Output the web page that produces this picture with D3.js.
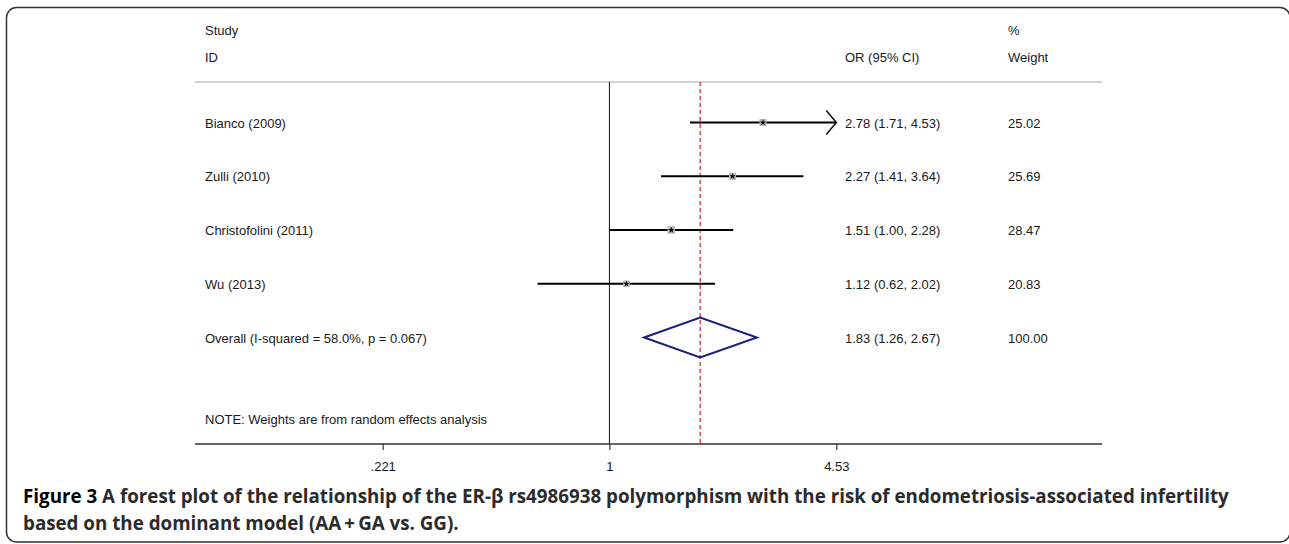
<!DOCTYPE html>
<html>
<head>
<meta charset="utf-8">
<script src="https://cdn.jsdelivr.net/npm/d3@7"></script>
<style>
  body { margin: 0; background: #fff; }
  .lbl { font-family: "Liberation Sans", Arial, sans-serif; font-size: 13px; fill: #1a1a1a; }
  .cap { font-family: "Open Sans", "Noto Sans", sans-serif; font-weight: 700; }
</style>
</head>
<body>
<div id="chart"></div>
<script>
// forest plot - ER-beta rs4986938, dominant model
var studies = ["Bianco  (2009)", "Zulli (2010)", "Christofolini  (2011)", "Wu (2013)"];
var orValues = [2.78, 2.27, 1.51, 1.12];
var ciLower = [1.71, 1.41, 1.00, 0.62];
var ciUpper = [4.53, 3.64, 2.28, 2.02];
var weights = [25.02, 25.69, 28.47, 20.83];
var orText = ["2.78 (1.71, 4.53)", "2.27 (1.41, 3.64)", "1.51 (1.00, 2.28)", "1.12 (0.62, 2.02)"];
var weightText = ["25.02", "25.69", "28.47", "20.83"];

var overallLabel = "Overall  (I-squared = 58.0%, p = 0.067)";
var overallOR = 1.83, overallLower = 1.26, overallUpper = 2.67;
var overallText = "1.83 (1.26, 2.67)", overallWeight = "100.00";

var tickValues = [0.221, 1, 4.53];
var tickLabels = [".221", "1", "4.53"];

var svgWidth = 1289, svgHeight = 544;

var svg = d3.select("#chart").append("svg")
  .attr("width", svgWidth)
  .attr("height", svgHeight);

// rounded frame (right side sits on the image edge)
svg.append("rect")
  .attr("x", 6.5).attr("y", 7.5)
  .attr("width", 1283.5).attr("height", 534.5)
  .attr("rx", 10)
  .attr("fill", "none")
  .attr("stroke", "#333")
  .attr("stroke-width", 1.5);

var plotLeft = 195, plotRight = 1102;
var headerY = 82, axisY = 444;
var labelX = 205, orX = 845, weightX = 1008;

var x = d3.scaleLog()
  .domain([tickValues[0], tickValues[2]])
  .range([382.7, 836.3]);

var y = d3.scaleLinear()
  .domain([0, 4])
  .range([122.5, 337.5]);

// headers
svg.append("text").attr("class", "lbl").attr("x", labelX).attr("y", 35).text("Study");
svg.append("text").attr("class", "lbl").attr("x", labelX).attr("y", 62).text("ID");
svg.append("text").attr("class", "lbl").attr("x", orX).attr("y", 62).text("OR (95% CI)");
svg.append("text").attr("class", "lbl").attr("x", weightX).attr("y", 35).text("%");
svg.append("text").attr("class", "lbl").attr("x", weightX).attr("y", 62).text("Weight");

svg.append("line")
  .attr("x1", plotLeft).attr("x2", plotRight)
  .attr("y1", headerY).attr("y2", headerY)
  .attr("stroke", "#c4c4c4").attr("stroke-width", 1.5);

// null line and overall line
svg.append("line")
  .attr("x1", x(1)).attr("x2", x(1))
  .attr("y1", headerY).attr("y2", axisY)
  .attr("stroke", "#111").attr("stroke-width", 1);

svg.append("line")
  .attr("x1", x(overallOR)).attr("x2", x(overallOR))
  .attr("y1", headerY).attr("y2", axisY)
  .attr("stroke", "#c0282d").attr("stroke-width", 1.2)
  .attr("stroke-dasharray", "4,3");

// axis
svg.append("line")
  .attr("x1", plotLeft).attr("x2", plotRight)
  .attr("y1", axisY).attr("y2", axisY)
  .attr("stroke", "#333").attr("stroke-width", 1.6);

var xAxis = d3.axisBottom(x)
  .tickValues(tickValues)
  .tickSize(6)
  .tickSizeOuter(0)
  .tickFormat(function(d, i) { return tickLabels[i]; });

var axisG = svg.append("g")
  .attr("transform", "translate(0," + axisY + ")")
  .call(xAxis);
axisG.select(".domain").remove();
axisG.selectAll("line").attr("stroke", "#333").attr("stroke-width", 1.2);
axisG.selectAll("text")
  .attr("class", "lbl")
  .attr("y", 23)
  .attr("dy", "0.32em");

// study rows
var rows = studies.map(function(s, i) {
  return { name: s, or: orValues[i], lo: ciLower[i], hi: ciUpper[i], w: weights[i], txt: orText[i], wt: weightText[i], i: i };
});

var maxTick = d3.max(tickValues);

var rowG = svg.selectAll(".row").data(rows).enter().append("g").attr("class", "row");

rowG.append("text").attr("class", "lbl")
  .attr("x", labelX).attr("y", function(d) { return y(d.i) + 5; })
  .text(function(d) { return d.name; });

rowG.append("text").attr("class", "lbl")
  .attr("x", orX).attr("y", function(d) { return y(d.i) + 5; })
  .text(function(d) { return d.txt; });

rowG.append("text").attr("class", "lbl")
  .attr("x", weightX).attr("y", function(d) { return y(d.i) + 5; })
  .text(function(d) { return d.wt; });

rowG.append("line")
  .attr("x1", function(d) { return x(d.lo); })
  .attr("x2", function(d) { return x(Math.min(d.hi, maxTick)); })
  .attr("y1", function(d) { return y(d.i); })
  .attr("y2", function(d) { return y(d.i); })
  .attr("stroke", "#000").attr("stroke-width", 2);

// arrow where CI reaches the axis limit
rowG.filter(function(d) { return d.hi >= maxTick; })
  .append("path")
  .attr("d", function(d) {
    var tx = x(maxTick), ty = y(d.i);
    return "M" + (tx - 10) + "," + (ty - 12) + "L" + tx + "," + ty + "L" + (tx - 10) + "," + (ty + 12);
  })
  .attr("fill", "none").attr("stroke", "#000").attr("stroke-width", 1.4);

// weight boxes
rowG.append("rect")
  .attr("x", function(d) { return x(d.or) - 3.5 * Math.sqrt(d.w / 25); })
  .attr("y", function(d) { return y(d.i) - 3.5 * Math.sqrt(d.w / 25); })
  .attr("width", function(d) { return 7 * Math.sqrt(d.w / 25); })
  .attr("height", function(d) { return 7 * Math.sqrt(d.w / 25); })
  .attr("fill", "#b4b4b4");

rowG.append("path")
  .attr("transform", function(d) { return "translate(" + x(d.or) + "," + y(d.i) + ")"; })
  .attr("d", d3.symbol(d3.symbolStar, 12))
  .attr("fill", "#000");

// overall
var oy = y(4);
svg.append("text").attr("class", "lbl").attr("x", labelX).attr("y", oy + 5).text(overallLabel);
svg.append("text").attr("class", "lbl").attr("x", orX).attr("y", oy + 5).text(overallText);
svg.append("text").attr("class", "lbl").attr("x", weightX).attr("y", oy + 5).text(overallWeight);

svg.append("path")
  .attr("d", "M" + x(overallLower) + "," + oy +
             "L" + x(overallOR) + "," + (oy - 20) +
             "L" + x(overallUpper) + "," + oy +
             "L" + x(overallOR) + "," + (oy + 20) + "Z")
  .attr("fill", "none")
  .attr("stroke", "#1c1f7a")
  .attr("stroke-width", 2);

svg.append("text").attr("class", "lbl")
  .attr("x", labelX).attr("y", 424)
  .text("NOTE: Weights are from random effects analysis");

// caption
var cap1 = svg.append("text").attr("class", "cap").attr("x", 23).attr("y", 503).attr("fill", "#2b2b2b");
cap1.append("tspan").attr("fill", "#000").text("Figure 3");
cap1.append("tspan").text(" A forest plot of the relationship of the ER-\u03b2 rs4986938 polymorphism with the risk of endometriosis-associated infertility");
var cap2 = svg.append("text").attr("class", "cap").attr("x", 23).attr("y", 530).attr("fill", "#2b2b2b")
  .text("based on the dominant model (AA\u2009+\u2009GA vs. GG).");

// fit caption size to the reference line width
var fs = 20;
cap1.style("font-size", fs + "px");
var w = cap1.node().getComputedTextLength();
fs = fs * 1207 / w;
cap1.style("font-size", fs + "px");
cap2.style("font-size", fs + "px");
</script>
</body>
</html>
